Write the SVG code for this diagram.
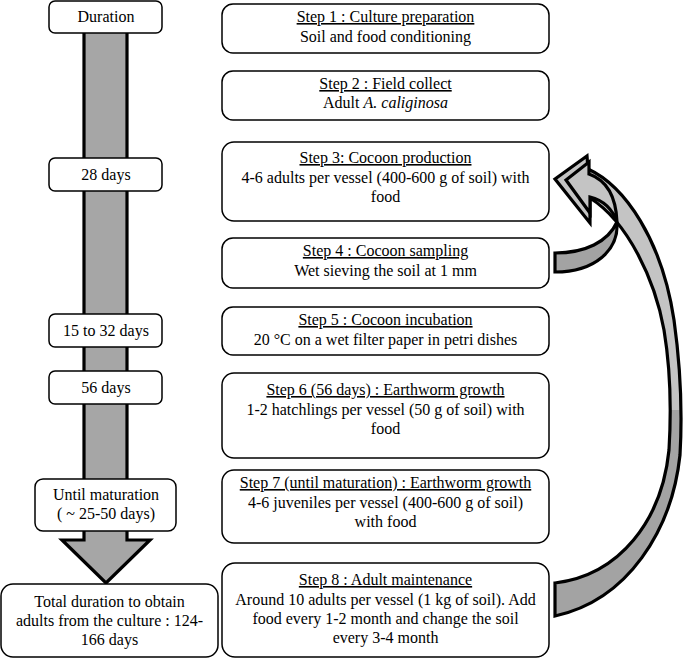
<svg xmlns="http://www.w3.org/2000/svg" width="685" height="661" viewBox="0 0 685 661">
<defs>
<style>
.box{fill:#fff;stroke:#000;stroke-width:1.5}
.t{font-size:16px;fill:#000;text-anchor:middle}
.u{text-decoration:underline}
.arr{stroke:#000;stroke-width:3.2;stroke-linejoin:miter}
</style>
<linearGradient id="bigfill" gradientUnits="userSpaceOnUse" x1="0" y1="0" x2="0" y2="661">
<stop offset="0" stop-color="#c4c4c4"/>
<stop offset="0.62" stop-color="#c4c4c4"/>
<stop offset="0.62" stop-color="#a3a3a3"/>
<stop offset="1" stop-color="#a3a3a3"/>
</linearGradient>
</defs>
<rect width="685" height="661" fill="#fff"/>
<g id="connectors">
<path id="timeline" class="arr" fill="#a6a6a6" d="M84,20 L84,540 L62,540 L106,583 L150,540 L127,540 L127,20 Z"/>
<path id="loop-big" class="arr" fill="url(#bigfill)" d="M555,583 C620,575 662,520 669,450 C672,400 669,360 664,330 C655,280 628,222 590,198 L590,223 L555,179 L587,156 L588,169 C625,186 662,240 674,320 C681,370 682,420 680,455 C672,530 628,600 555,616 Z"/>
<path id="loop-small-dark" class="arr" fill="#a3a3a3" d="M555,253 C585,253 608,242 617,222 C619,250 595,272 555,272 Z"/>
<path id="loop-small-light" class="arr" fill="#c4c4c4" d="M617,222 C616,196 606,180 589,174 L589,162 L566,180 L590,213 L590,197 C602,200 612,208 617,222 Z"/>
</g>
<g font-family="'Liberation Serif', 'Times New Roman', 'DejaVu Serif', serif">
<g id="n-duration"><rect class="box" x="49" y="1" width="113" height="32" rx="6"/><text class="t" x="106" y="22">Duration</text></g>
<g id="n-28"><rect class="box" x="49" y="158" width="113" height="33" rx="6"/><text class="t" x="106" y="180">28 days</text></g>
<g id="n-15"><rect class="box" x="49" y="314" width="113" height="33" rx="6"/><text class="t" x="106" y="336">15 to 32 days</text></g>
<g id="n-56"><rect class="box" x="49" y="371" width="113" height="33" rx="6"/><text class="t" x="106" y="393">56 days</text></g>
<g id="n-until"><rect class="box" x="35" y="479" width="141" height="52" rx="8"/><text class="t" x="106" y="500">Until maturation</text><text class="t" x="106" y="519">( ~ 25-50 days)</text></g>
<g id="n-total"><rect class="box" x="1" y="584" width="217" height="73" rx="12"/><text class="t" x="109.5" y="607">Total duration to obtain</text><text class="t" x="109.5" y="626">adults from the culture : 124-</text><text class="t" x="109.5" y="645">166 days</text></g>
<g id="s1"><rect class="box" x="222" y="4" width="327" height="49" rx="11"/><text class="t u" x="385.5" y="22">Step 1 : Culture preparation</text><text class="t" x="385.5" y="42">Soil and food conditioning</text></g>
<g id="s2"><rect class="box" x="222" y="71" width="327" height="49" rx="11"/><text class="t u" x="385.5" y="89">Step 2 : Field collect</text><text class="t" x="385.5" y="108">Adult <tspan font-style="italic">A. caliginosa</tspan></text></g>
<g id="s3"><rect class="box" x="222" y="142" width="327" height="79" rx="12"/><text class="t u" x="385.5" y="163">Step 3: Cocoon production</text><text class="t" x="385.5" y="183">4-6 adults per vessel (400-600 g of soil) with</text><text class="t" x="385.5" y="202">food</text></g>
<g id="s4"><rect class="box" x="222" y="238" width="327" height="50" rx="11"/><text class="t u" x="385.5" y="256">Step 4 : Cocoon sampling</text><text class="t" x="385.5" y="276">Wet sieving the soil at 1 mm</text></g>
<g id="s5"><rect class="box" x="222" y="307" width="327" height="48" rx="11"/><text class="t u" x="385.5" y="325">Step 5 : Cocoon incubation</text><text class="t" x="385.5" y="345">20 °C on a wet filter paper in petri dishes</text></g>
<g id="s6"><rect class="box" x="222" y="373" width="327" height="85" rx="12"/><text class="t u" x="385.5" y="395">Step 6 (56 days) : Earthworm growth</text><text class="t" x="385.5" y="415">1-2 hatchlings per vessel (50 g of soil) with</text><text class="t" x="385.5" y="434">food</text></g>
<g id="s7"><rect class="box" x="222" y="470" width="327" height="73" rx="12"/><text class="t u" x="385.5" y="488">Step 7 (until maturation) : Earthworm growth</text><text class="t" x="385.5" y="508">4-6 juveniles per vessel (400-600 g of soil)</text><text class="t" x="385.5" y="527">with food</text></g>
<g id="s8"><rect class="box" x="222" y="563" width="327" height="94" rx="13"/><text class="t u" x="385.5" y="585">Step 8 : Adult maintenance</text><text class="t" x="385.5" y="605">Around 10 adults per vessel (1 kg of soil). Add</text><text class="t" x="385.5" y="624">food every 1-2 month and change the soil</text><text class="t" x="385.5" y="643">every 3-4 month</text></g>
</g>
</svg>
